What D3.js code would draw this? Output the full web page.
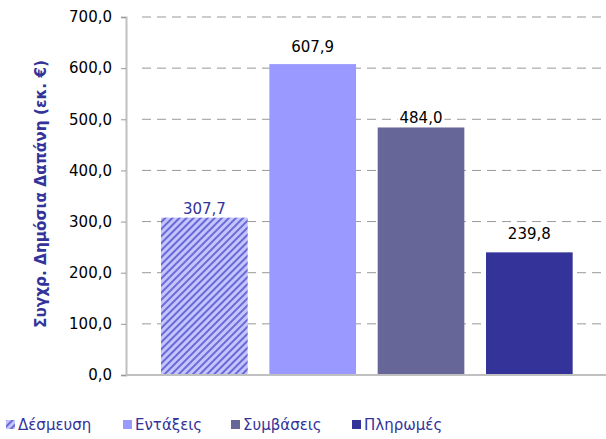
<!DOCTYPE html>
<html>
<head>
<meta charset="utf-8">
<script src="https://cdn.jsdelivr.net/npm/d3@7/dist/d3.min.js"></script>
<style>
  html, body { margin: 0; padding: 0; background: #fff; }
  svg { display: block; font-family: "DejaVu Sans", Verdana, sans-serif; }
</style>
</head>
<body>
<svg id="chart" width="606" height="439"></svg>
<script>
const categories = ["Δέσμευση", "Εντάξεις", "Συμβάσεις", "Πληρωμές"];
const values = [307.7, 607.9, 484.0, 239.8];
const yTicks = [0, 100, 200, 300, 400, 500, 600, 700];
const yTitle = "Συγχρ. Δημόσια Δαπάνη (εκ. €)";

const colors = ["url(#hatch)", "#9999ff", "#666699", "#333399"];
const labelColors = ["#333399", "#000", "#000", "#000"];
const labelGap = [4, 12, 4, 13];

const svg = d3.select("#chart");
const fmt = v => d3.format(".1f")(v).replace(".", ",");

const defs = svg.append("defs");
const pat = defs.append("pattern")
  .attr("id", "hatch").attr("patternUnits", "userSpaceOnUse")
  .attr("width", 5).attr("height", 5)
  .attr("patternTransform", "rotate(45)");
pat.append("rect").attr("width", 5).attr("height", 5).attr("fill", "#c4c4ff");
pat.append("line").attr("x1", 1).attr("y1", 0).attr("x2", 1).attr("y2", 5)
  .attr("stroke", "#6a6ad6").attr("stroke-width", 2);

const axisX = 126, plotRight = 606;
const y = d3.scaleLinear().domain([0, 700]).range([375, 17]);
const x = d3.scaleBand().domain(categories).range([150.2, 583.5])
  .paddingInner(0.2).paddingOuter(0.1);

// grid
svg.append("g").selectAll("line").data(yTicks.filter(d => d > 0)).join("line")
  .attr("x1", axisX + 16).attr("x2", plotRight)
  .attr("y1", d => y(d)).attr("y2", d => y(d))
  .attr("stroke", "#999").attr("stroke-width", 1)
  .attr("stroke-dasharray", "9,6");

// bars
svg.append("g").selectAll("rect").data(values).join("rect")
  .attr("x", (d, i) => x(categories[i]))
  .attr("width", x.bandwidth())
  .attr("y", d => y(d))
  .attr("height", d => y(0) - y(d))
  .attr("fill", (d, i) => colors[i]);

// y axis
const yAxis = d3.axisLeft(y).tickValues(yTicks).tickFormat(fmt).tickSize(5).tickPadding(9);
const ga = svg.append("g").attr("transform", `translate(${axisX},0)`).call(yAxis);
ga.select(".domain").attr("stroke", "#c0c0c0").attr("stroke-width", 2);
ga.selectAll(".tick line").attr("stroke", "#999");
ga.selectAll(".tick text").attr("font-size", 15).attr("fill", "#000")
  .attr("font-family", "DejaVu Sans, Verdana, sans-serif");

// x axis baseline
svg.append("line").attr("x1", axisX).attr("x2", plotRight)
  .attr("y1", y(0)).attr("y2", y(0))
  .attr("stroke", "#c0c0c0").attr("stroke-width", 2);

// y title
svg.append("text")
  .attr("transform", `translate(46,194) rotate(-90)`)
  .attr("text-anchor", "middle")
  .attr("font-size", 15.3).attr("font-weight", "bold").attr("fill", "#333399")
  .text(yTitle);

// value labels
const lg = svg.append("g");
values.forEach((v, i) => {
  const cx = x(categories[i]) + x.bandwidth() / 2;
  const t = lg.append("text")
    .attr("x", cx).attr("y", y(v) - labelGap[i])
    .attr("text-anchor", "middle").attr("font-size", 15)
    .attr("fill", labelColors[i]).text(fmt(v));
  const bb = t.node().getBBox();
  lg.insert("rect", "text").attr("x", bb.x - 2).attr("y", bb.y + 2)
    .attr("width", bb.width + 4).attr("height", bb.height - 4).attr("fill", "#fff");
});

// legend
const legendX = [6, 123, 231, 352];
const leg = svg.append("g");
categories.forEach((c, i) => {
  leg.append("rect").attr("x", legendX[i]).attr("y", 420)
    .attr("width", 9).attr("height", 9).attr("fill", colors[i]);
  leg.append("text").attr("x", legendX[i] + 12).attr("y", 430)
    .attr("font-size", 15).attr("fill", "#333399").text(c);
});
</script>
</body>
</html>
